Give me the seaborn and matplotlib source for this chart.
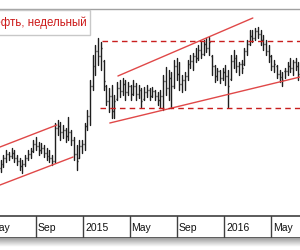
import pandas as pd
import numpy as np
import matplotlib
matplotlib.use("Agg")
import matplotlib.pyplot as plt
import matplotlib.patches as mpatches
import matplotlib.transforms as mtransforms
import seaborn as sns

sns.set_style("white")
plt.rcParams['font.family'] = ['Liberation Sans', 'DejaVu Sans']

# недельные бары
weeks = pd.date_range('2014-06-02', periods=111, freq='7D')

high = [56, 61, 66, 64, 68, 66, 61, 58, 56, 61, 66, 68, 76, 79, 74, 73, 71, 68, 66, 61,
        93, 96, 94, 91, 88, 99, 86, 79, 71, 76, 76, 93, 106, 136, 161, 171, 178, 174, 156, 131,
        128, 131, 121, 134, 136, 138, 136, 134, 131, 136, 133, 131, 128, 129, 131, 128, 129, 126, 124, 126,
        141, 149, 146, 144, 156, 158, 154, 141, 144, 156, 161, 163, 168, 171, 174, 176, 178, 179, 161, 151,
        148, 146, 148, 151, 146, 161, 166, 161, 154, 156, 168, 176, 186, 186, 188, 189, 186, 181, 176, 171,
        161, 156, 151, 146, 144, 148, 154, 158, 156, 158, 154]
low = [44, 49, 54, 56, 58, 54, 51, 46, 43, 50, 56, 58, 64, 66, 61, 63, 59, 56, 54, 51,
       54, 81, 76, 78, 74, 76, 71, 56, 46, 58, 63, 66, 86, 91, 126, 141, 151, 146, 126, 111,
       104, 98, 98, 116, 119, 121, 116, 121, 116, 121, 116, 118, 109, 116, 119, 116, 119, 116, 111, 108,
       106, 121, 116, 108, 128, 136, 126, 124, 126, 136, 148, 146, 154, 156, 158, 161, 164, 161, 141, 134,
       136, 133, 136, 131, 109, 136, 148, 144, 141, 143, 151, 161, 171, 174, 176, 178, 171, 166, 161, 154,
       146, 144, 138, 134, 130, 138, 141, 144, 141, 146, 136]
close = [52, 58, 62, 60, 63, 58, 55, 50, 52, 58, 62, 65, 72, 70, 66, 68, 63, 60, 58, 55,
         88, 90, 84, 86, 80, 84, 76, 62, 55, 70, 72, 90, 100, 130, 150, 165, 160, 168, 135, 115,
         120, 105, 115, 128, 125, 132, 124, 130, 122, 130, 122, 126, 115, 124, 126, 120, 125, 120, 116, 120,
         135, 128, 138, 130, 150, 142, 132, 136, 140, 152, 155, 160, 158, 166, 162, 172, 168, 174, 150, 140,
         145, 138, 144, 140, 130, 155, 158, 150, 152, 148, 165, 172, 180, 178, 185, 182, 176, 172, 165, 160,
         150, 152, 142, 140, 136, 145, 150, 148, 154, 150, 142]
open_ = [48, 52, 58, 62, 60, 63, 58, 55, 50, 52, 58, 62, 65, 72, 70, 66, 68, 63, 60, 58,
         55, 88, 90, 84, 86, 80, 84, 76, 62, 58, 70, 72, 90, 100, 130, 150, 165, 160, 155, 130,
         115, 120, 105, 117, 128, 125, 132, 124, 130, 122, 130, 122, 126, 117, 124, 126, 120, 125, 120, 116,
         120, 135, 128, 138, 130, 150, 142, 132, 136, 140, 152, 155, 160, 158, 166, 162, 172, 168, 160, 150,
         140, 145, 138, 144, 140, 137, 155, 158, 150, 152, 152, 165, 172, 180, 178, 185, 182, 176, 172, 165,
         160, 150, 150, 142, 139, 145, 145, 150, 148, 154, 150]

tick_dates = pd.to_datetime(['2014-05-01', '2014-09-01', '2015-01-01', '2015-05-01',
                             '2015-09-01', '2016-01-01', '2016-05-01'])
tick_labels = ['May', 'Sep', '2015', 'May', 'Sep', '2016', 'May']

# линии тренда: даты и уровни
chan14_top_dates = ['2014-05-31', '2014-10-25']
chan14_top_vals = [69, 91]
chan14_bot_dates = ['2014-05-31', '2014-12-06']
chan14_bot_vals = [31, 59]
chan15_top_dates = ['2015-04-01', '2016-03-15']
chan15_top_vals = [140, 198]
chan15_bot_dates = ['2015-03-11', '2016-07-15']
chan15_bot_vals = [93, 139]
res_dates = ['2015-02-19', '2016-07-15']
res_vals = [175, 175]
sup_dates = ['2015-02-13', '2016-07-15']
sup_vals = [108, 108]

x_min = pd.Timestamp('2014-05-31')
x_max = pd.Timestamp('2016-07-15')

fig = plt.figure(figsize=(3, 2.5), dpi=100)
ax = fig.add_axes([0, 1 - 216 / 250, 1, 207 / 250])

bars = pd.DataFrame({
    'date': list(weeks) * 2,
    'price': low + high,
    'bar': list(range(len(weeks))) * 2,
})
sns.lineplot(data=bars, x='date', y='price', units='bar', estimator=None,
             color='#1e1e1e', linewidth=1, ax=ax, legend=False)
tick = pd.Timedelta(days=2.5)
ax.hlines(open_, weeks - tick, weeks, color='#1e1e1e', linewidth=1)
ax.hlines(close, weeks, weeks + tick, color='#1e1e1e', linewidth=1)

red = '#e04848'
dash_red = '#c81e1e'
for d, v in [(chan14_top_dates, chan14_top_vals), (chan14_bot_dates, chan14_bot_vals),
             (chan15_top_dates, chan15_top_vals), (chan15_bot_dates, chan15_bot_vals)]:
    sns.lineplot(x=pd.to_datetime(d), y=v, color=red, linewidth=1, ax=ax)
for d, v in [(res_dates, res_vals), (sup_dates, sup_vals)]:
    sns.lineplot(x=pd.to_datetime(d), y=v, color=dash_red, linewidth=1,
                 linestyle=(0, (4, 3)), ax=ax)

ax.set_xlim(x_min, x_max)
ax.set_ylim(0, 207)
ax.set_xticks([])
ax.set_yticks([])
ax.set_xlabel('')
ax.set_ylabel('')
for s in ['left', 'right', 'bottom']:
    ax.spines[s].set_visible(False)
ax.spines['top'].set_color('#a0a0a0')
ax.spines['top'].set_linewidth(1)

# полоса с датами
ax2 = fig.add_axes([0, 1 - 238 / 250, 1, 22 / 250])
ax2.set_xlim(x_min, x_max)
ax2.set_ylim(0, 1)
ax2.set_xticks([])
ax2.set_yticks([])
for s in ['left', 'right']:
    ax2.spines[s].set_visible(False)
for s in ['top', 'bottom']:
    ax2.spines[s].set_color('#404040')
    ax2.spines[s].set_linewidth(1.2)
for d, lab in zip(tick_dates, tick_labels):
    ax2.axvline(d, color='#404040', linewidth=1)
    ax2.text(d + pd.Timedelta(days=5), 0.45, lab, ha='left', va='center',
             fontsize=7.5, color='#111111')

# тень под полосой
ax3 = fig.add_axes([0, 1 - 247 / 250, 1, 9 / 250])
grad = np.linspace(0.62, 1.0, 50).reshape(-1, 1)
ax3.imshow(grad, aspect='auto', cmap='gray', vmin=0, vmax=1, extent=[0, 1, 0, 1])
ax3.axis('off')

# заголовок
fig.patches.append(mpatches.Rectangle((-0.02, 1 - 35 / 250), 0.02 + 90 / 300, 25 / 250,
                                      transform=fig.transFigure, facecolor='white',
                                      edgecolor='#c8c8c8', linewidth=1, zorder=5))
fig.text(87 / 300, 1 - 23 / 250, 'Нефть, недельный', ha='right', va='center',
         color='#cc1a1a', fontsize=8.3, zorder=6)

fig.savefig('out.png', dpi=100)
